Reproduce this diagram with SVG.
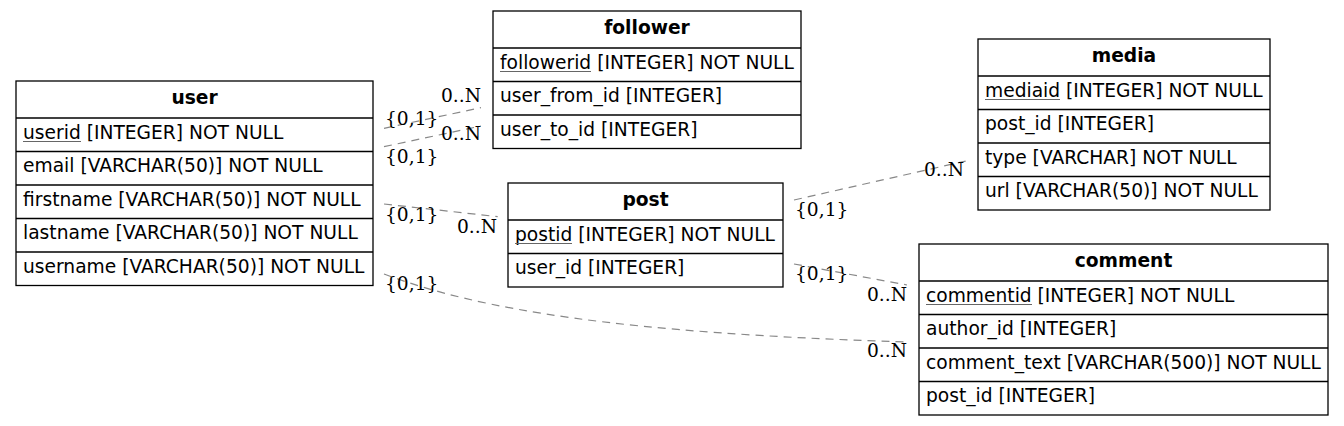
<svg xmlns="http://www.w3.org/2000/svg" width="1344" height="426" viewBox="0 0 1344 426">
<style>
.bg{fill:#fff}
.box{fill:#fff;stroke:#000;stroke-width:1.3}
.sep{stroke:#000;stroke-width:1.6}
.t{font-family:"DejaVu Sans",sans-serif;font-size:18.67px;fill:#000}
.h{font-weight:bold;text-anchor:middle}
.pk{stroke:#666;stroke-width:1}
.l{font-family:"DejaVu Serif",serif;font-size:18.67px;fill:#000}
.r{text-anchor:end}
.e{fill:none;stroke:#888;stroke-width:1.2;stroke-dasharray:8,6}
</style>
<rect class="bg" x="0" y="0" width="1344" height="426"/>
<g id="connectors">
<path class="e" d="M384,128.3 L481,107.7"/>
<path class="e" d="M384,146.7 L481,126"/>
<path class="e" d="M384,204 L497.7,216.7"/>
<path class="e" d="M384,274 C480,310 620,333 907,342"/>
<path class="e" d="M794,200 L966,161"/>
<path class="e" d="M794,264 L907,285"/>
<text class="l" x="385" y="125">{0,1}</text>
<text class="l r" x="481" y="102">0..N</text>
<text class="l" x="385" y="163">{0,1}</text>
<text class="l r" x="481" y="140">0..N</text>
<text class="l" x="385" y="221">{0,1}</text>
<text class="l r" x="497" y="233">0..N</text>
<text class="l" x="385" y="290">{0,1}</text>
<text class="l r" x="907" y="357">0..N</text>
<text class="l" x="795" y="216">{0,1}</text>
<text class="l r" x="964" y="176">0..N</text>
<text class="l" x="795" y="280">{0,1}</text>
<text class="l r" x="907" y="301">0..N</text>
</g>
<g id="user">
<rect class="box" x="16" y="81" width="357" height="204.5"/>
<line class="sep" x1="16" y1="118" x2="373" y2="118"/>
<line class="sep" x1="16" y1="151.5" x2="373" y2="151.5"/>
<line class="sep" x1="16" y1="185" x2="373" y2="185"/>
<line class="sep" x1="16" y1="218.5" x2="373" y2="218.5"/>
<line class="sep" x1="16" y1="252" x2="373" y2="252"/>
<text class="t h" x="194.5" y="104">user</text>
<text class="t" x="23" y="138.5">userid [INTEGER] NOT NULL</text>
<line class="pk" x1="23" y1="141.5" x2="81" y2="141.5"/>
<text class="t" x="23" y="172">email [VARCHAR(50)] NOT NULL</text>
<text class="t" x="23" y="205.5">firstname [VARCHAR(50)] NOT NULL</text>
<text class="t" x="23" y="239">lastname [VARCHAR(50)] NOT NULL</text>
<text class="t" x="23" y="272.5">username [VARCHAR(50)] NOT NULL</text>
</g>
<g id="follower">
<rect class="box" x="493" y="11" width="308" height="137.5"/>
<line class="sep" x1="493" y1="48" x2="801" y2="48"/>
<line class="sep" x1="493" y1="81.5" x2="801" y2="81.5"/>
<line class="sep" x1="493" y1="115" x2="801" y2="115"/>
<text class="t h" x="647" y="34">follower</text>
<text class="t" x="500" y="68.5">followerid [INTEGER] NOT NULL</text>
<line class="pk" x1="500" y1="71.5" x2="591" y2="71.5"/>
<text class="t" x="500" y="102">user_from_id [INTEGER]</text>
<text class="t" x="500" y="135.5">user_to_id [INTEGER]</text>
</g>
<g id="post">
<rect class="box" x="508" y="183" width="275" height="104"/>
<line class="sep" x1="508" y1="220" x2="783" y2="220"/>
<line class="sep" x1="508" y1="253.5" x2="783" y2="253.5"/>
<text class="t h" x="645.5" y="206">post</text>
<text class="t" x="515" y="240.5">postid [INTEGER] NOT NULL</text>
<line class="pk" x1="515" y1="243.5" x2="572" y2="243.5"/>
<text class="t" x="515" y="274">user_id [INTEGER]</text>
</g>
<g id="media">
<rect class="box" x="978" y="39" width="292" height="171"/>
<line class="sep" x1="978" y1="76" x2="1270" y2="76"/>
<line class="sep" x1="978" y1="109.5" x2="1270" y2="109.5"/>
<line class="sep" x1="978" y1="143" x2="1270" y2="143"/>
<line class="sep" x1="978" y1="176.5" x2="1270" y2="176.5"/>
<text class="t h" x="1124" y="62">media</text>
<text class="t" x="985" y="96.5">mediaid [INTEGER] NOT NULL</text>
<line class="pk" x1="985" y1="99.5" x2="1060" y2="99.5"/>
<text class="t" x="985" y="130">post_id [INTEGER]</text>
<text class="t" x="985" y="163.5">type [VARCHAR] NOT NULL</text>
<text class="t" x="985" y="197">url [VARCHAR(50)] NOT NULL</text>
</g>
<g id="comment">
<rect class="box" x="919" y="244" width="409" height="171"/>
<line class="sep" x1="919" y1="281" x2="1328" y2="281"/>
<line class="sep" x1="919" y1="314.5" x2="1328" y2="314.5"/>
<line class="sep" x1="919" y1="348" x2="1328" y2="348"/>
<line class="sep" x1="919" y1="381.5" x2="1328" y2="381.5"/>
<text class="t h" x="1123.5" y="267">comment</text>
<text class="t" x="926" y="301.5">commentid [INTEGER] NOT NULL</text>
<line class="pk" x1="926" y1="304.5" x2="1032" y2="304.5"/>
<text class="t" x="926" y="335">author_id [INTEGER]</text>
<text class="t" x="926" y="368.5">comment_text [VARCHAR(500)] NOT NULL</text>
<text class="t" x="926" y="402">post_id [INTEGER]</text>
</g>
</svg>
